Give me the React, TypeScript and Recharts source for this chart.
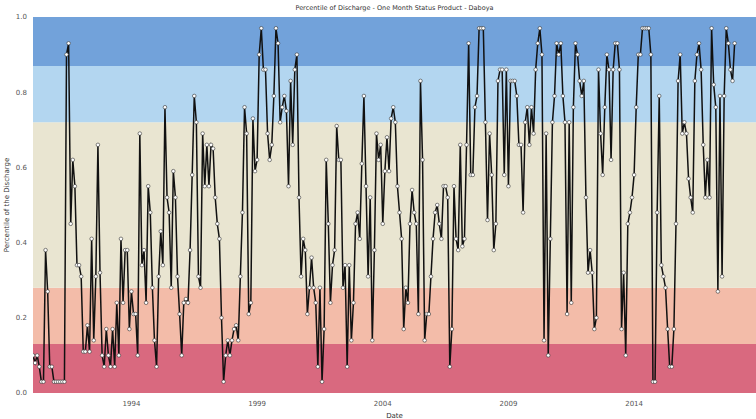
import { LineChart, Line, XAxis, YAxis, ReferenceArea } from "recharts";

// monthly percentile of discharge, first value = Feb 1990
const firstMonth = 1990 + 1 / 12;
const lastX = 2018.85;

const percentile1990s = [
  0.1, 0.08, 0.1, 0.07, 0.03, 0.03, 0.38, 0.27, 0.07, 0.07, 0.03, 0.03, 0.03, 0.03, 0.03, 0.03,
  0.9, 0.93, 0.45, 0.62, 0.55, 0.34, 0.34, 0.31, 0.11, 0.11, 0.18, 0.11, 0.41, 0.14, 0.31, 0.66,
  0.32, 0.1, 0.07, 0.17, 0.1, 0.07, 0.17, 0.07, 0.24, 0.1, 0.41, 0.24, 0.38, 0.38, 0.17, 0.27,
  0.21, 0.21, 0.1, 0.69, 0.34, 0.38, 0.24, 0.55, 0.48, 0.28, 0.14, 0.07, 0.31, 0.43, 0.34, 0.76,
  0.52, 0.48, 0.28, 0.59, 0.52, 0.31, 0.21, 0.1, 0.24, 0.25, 0.24, 0.38, 0.58, 0.79, 0.72, 0.31,
  0.28, 0.69, 0.55, 0.66, 0.55, 0.66, 0.65, 0.52, 0.45, 0.41, 0.2, 0.03, 0.1, 0.14, 0.1, 0.14,
  0.17, 0.18, 0.14, 0.31, 0.48, 0.76, 0.69, 0.21, 0.24, 0.73, 0.59, 0.62, 0.9, 0.97, 0.86, 0.86,
  0.69, 0.62, 0.66, 0.79, 0.97, 0.93, 0.72,
];

const percentile2000s = [
  0.76, 0.79, 0.75, 0.55, 0.83, 0.66, 0.86, 0.9, 0.52, 0.31, 0.41, 0.38, 0.21, 0.28, 0.36, 0.28,
  0.24, 0.07, 0.28, 0.03, 0.17, 0.62, 0.45, 0.24, 0.34, 0.38, 0.71, 0.62, 0.62, 0.28, 0.34, 0.07,
  0.34, 0.14, 0.24, 0.45, 0.48, 0.41, 0.61, 0.79, 0.55, 0.31, 0.52, 0.14, 0.38, 0.69, 0.62, 0.66,
  0.45, 0.59, 0.68, 0.59, 0.73, 0.76, 0.72, 0.55, 0.48, 0.41, 0.17, 0.28, 0.24, 0.45, 0.54, 0.48,
  0.45, 0.21, 0.83, 0.62, 0.14, 0.21, 0.21, 0.31, 0.41, 0.48, 0.5, 0.45, 0.41, 0.55, 0.55, 0.52,
  0.07, 0.17, 0.55, 0.41, 0.38, 0.66, 0.39, 0.41, 0.66, 0.93, 0.58, 0.58, 0.76, 0.79, 0.97, 0.97,
  0.97, 0.72, 0.46, 0.69, 0.58, 0.38, 0.45, 0.83, 0.86, 0.86, 0.58, 0.86, 0.55, 0.83, 0.83, 0.83,
  0.79, 0.66, 0.66, 0.48, 0.72, 0.76, 0.66, 0.76,
];

const percentile2010s = [
  0.69, 0.86, 0.93, 0.97, 0.9, 0.14, 0.69, 0.1, 0.41, 0.72, 0.79, 0.93, 0.9, 0.93, 0.79, 0.72,
  0.21, 0.72, 0.24, 0.76, 0.93, 0.9, 0.83, 0.79, 0.83, 0.52, 0.32, 0.38, 0.32, 0.17, 0.2, 0.86,
  0.69, 0.58, 0.76, 0.9, 0.86, 0.62, 0.86, 0.93, 0.93, 0.86, 0.17, 0.32, 0.1, 0.45, 0.48, 0.52,
  0.58, 0.76, 0.9, 0.9, 0.97, 0.97, 0.97, 0.97, 0.9, 0.03, 0.03, 0.48, 0.79, 0.34, 0.31, 0.28,
  0.17, 0.07, 0.07, 0.17, 0.45, 0.83, 0.9, 0.69, 0.72, 0.69, 0.57, 0.52, 0.48, 0.83, 0.9, 0.93,
  0.86, 0.66, 0.52, 0.62, 0.52, 0.97, 0.82, 0.76, 0.27, 0.79, 0.31, 0.79, 0.97, 0.93, 0.86, 0.83,
  0.93,
];

const yearTicks = [1994, 1999, 2004, 2009, 2014];
const percentTicks = [0, 0.2, 0.4, 0.6, 0.8, 1];
// status class limits, bottom to top
const bandEdges = [0, 0.13, 0.28, 0.72, 0.87, 1];
const bandColors = ["#d9697f", "#f3bca9", "#e9e5d1", "#b3d6f0", "#72a2da"];

const values = [...percentile1990s, ...percentile2000s, ...percentile2010s];
const chartData = values.map((value, i) => ({ t: firstMonth + i / 12, value }));

const font = "'DejaVu Sans', sans-serif";

export default function App() {
  return (
    <div style={{ position: "absolute", left: 0, top: 0, width: 756, height: 419, background: "#fff", fontFamily: font }}>
      <div style={{ position: "absolute", left: 33, width: 723, top: 4, textAlign: "center", fontSize: 6.5, color: "#333" }}>
        Percentile of Discharge - One Month Status Product - Daboya
      </div>
      <div
        style={{
          position: "absolute", left: 7, top: 205, fontSize: 7, color: "#333", whiteSpace: "nowrap",
          transform: "translate(-50%, -50%) rotate(-90deg)",
        }}
      >
        Percentile of the Discharge
      </div>
      <LineChart width={756} height={419} data={chartData} margin={{ top: 17, right: 0, bottom: 0, left: 0 }}>
        {bandColors.map((color, i) => (
          <ReferenceArea key={color} y1={bandEdges[i]} y2={bandEdges[i + 1]} fill={color} fillOpacity={1} stroke="none" />
        ))}
        <XAxis
          type="number"
          dataKey="t"
          domain={[firstMonth, lastX]}
          ticks={yearTicks}
          allowDataOverflow
          height={26}
          axisLine={false}
          tickLine={false}
          tick={{ fontSize: 7, fill: "#555", fontFamily: font }}
          label={{ value: "Date", position: "insideBottom", offset: 1, fontSize: 7, fill: "#333", fontFamily: font }}
        />
        <YAxis
          type="number"
          domain={[0, 1]}
          ticks={percentTicks}
          width={33}
          axisLine={false}
          tickLine={false}
          tickMargin={0}
          tickFormatter={(v: number) => v.toFixed(1)}
          tick={{ fontSize: 7, fill: "#555", fontFamily: font }}
        />
        <Line
          type="linear"
          dataKey="value"
          stroke="#111"
          strokeWidth={1.5}
          dot={{ r: 1.8, fill: "#fff", stroke: "#333", strokeWidth: 0.6 }}
          isAnimationActive={false}
        />
      </LineChart>
    </div>
  );
}
